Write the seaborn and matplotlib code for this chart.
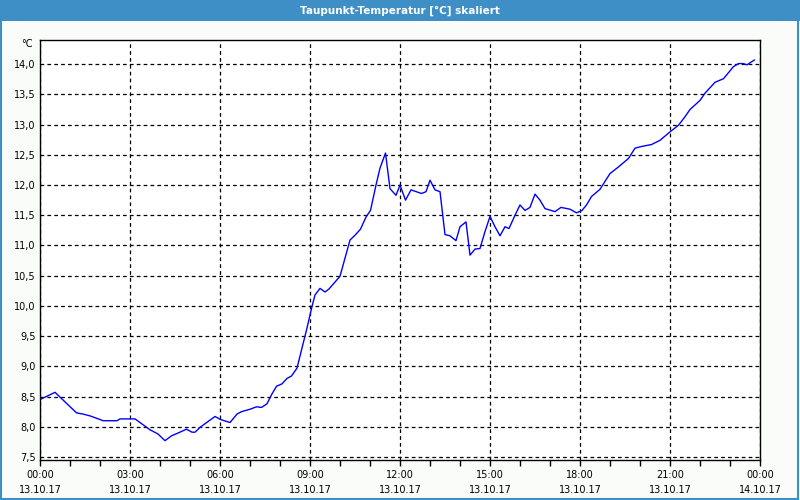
import pandas as pd
import numpy as np
import matplotlib
matplotlib.use("Agg")
import matplotlib.pyplot as plt
import matplotlib.dates as mdates
from matplotlib.ticker import FuncFormatter, MultipleLocator
from matplotlib.patches import Rectangle
import seaborn as sns

# readings of 13.10.17 (time of day, dew point in °C)
times = ["00:00", "00:30", "01:13", "01:26", "01:40", "02:00", "02:06", "02:34", "02:40", "03:10",
         "03:20", "03:40", "03:56", "04:10", "04:23", "04:37", "04:53", "05:04", "05:10", "05:20",
         "05:50", "06:01", "06:20", "06:34", "06:43", "07:00", "07:13", "07:23", "07:34", "07:43",
         "07:53", "08:04", "08:14", "08:23", "08:34", "08:43", "08:53", "09:04", "09:10", "09:20",
         "09:30", "09:38", "10:00", "10:20", "10:30", "10:41", "10:52", "11:01", "11:12", "11:20",
         "11:31", "11:40", "11:52", "12:00", "12:11", "12:22", "12:43", "12:52", "13:00", "13:10",
         "13:20", "13:30", "13:40", "13:52", "14:00", "14:12", "14:20", "14:30", "14:40", "14:50",
         "15:00", "15:10", "15:20", "15:30", "15:38", "15:50", "16:00", "16:10", "16:20", "16:30",
         "16:40", "16:50", "17:10", "17:22", "17:40", "17:53", "18:04", "18:13", "18:23", "18:40",
         "19:00", "19:17", "19:37", "19:50", "20:04", "20:23", "20:40", "21:00", "21:17", "21:30",
         "21:40", "22:00", "22:10", "22:30", "22:47", "23:07", "23:17", "23:26", "23:34", "23:49"]
dewpoint = [8.45, 8.57, 8.23, 8.21, 8.18, 8.12, 8.10, 8.10, 8.13, 8.13,
            8.07, 7.95, 7.88, 7.77, 7.85, 7.90, 7.96, 7.91, 7.91, 7.99,
            8.17, 8.12, 8.07, 8.21, 8.25, 8.29, 8.33, 8.32, 8.38, 8.53,
            8.67, 8.71, 8.80, 8.84, 8.97, 9.27, 9.60, 9.99, 10.18, 10.29,
            10.23, 10.28, 10.49, 11.09, 11.17, 11.27, 11.47, 11.58, 12.00, 12.28,
            12.53, 11.94, 11.83, 12.00, 11.75, 11.92, 11.86, 11.89, 12.08, 11.92,
            11.89, 11.18, 11.16, 11.08, 11.31, 11.39, 10.84, 10.94, 10.95, 11.23,
            11.48, 11.31, 11.16, 11.31, 11.28, 11.50, 11.67, 11.58, 11.63, 11.85,
            11.75, 11.61, 11.56, 11.63, 11.60, 11.54, 11.58, 11.67, 11.81, 11.93,
            12.19, 12.30, 12.44, 12.61, 12.64, 12.67, 12.74, 12.88, 12.99, 13.13,
            13.25, 13.40, 13.52, 13.70, 13.76, 13.96, 14.01, 14.01, 13.99, 14.07]

title = "Taupunkt-Temperatur [°C] skaliert"
unit = "°C"

df = pd.DataFrame({"Zeit": pd.to_datetime(["2017-10-13 " + t for t in times]),
                   "Taupunkt": dewpoint})

sns.set_style("white")
plt.rcParams["font.family"] = ["DejaVu Sans"]
plt.rcParams["text.color"] = "black"
plt.rcParams["xtick.color"] = "black"
plt.rcParams["ytick.color"] = "black"

fig = plt.figure(figsize=(8, 5), dpi=100, facecolor="#fafcfa")
ax = fig.add_axes([0.05, 0.08, 0.9, 0.84])
ax.set_facecolor("white")

sns.lineplot(data=df, x="Zeit", y="Taupunkt", color="#0000ff", linewidth=1, ax=ax)

ax.set_xlim(pd.Timestamp("2017-10-13 00:00"), pd.Timestamp("2017-10-14 00:00"))
ax.set_ylim(7.45, 14.4)
ax.yaxis.set_major_locator(MultipleLocator(0.5))
ax.yaxis.set_major_formatter(FuncFormatter(lambda v, p: f"{v:.1f}".replace(".", ",")))
ax.xaxis.set_major_locator(mdates.HourLocator(byhour=range(0, 24, 3)))
ax.xaxis.set_minor_locator(mdates.HourLocator())
ax.xaxis.set_major_formatter(mdates.DateFormatter("%H:%M\n%d.%m.%y"))

ax.grid(True, which="major", color="black", linestyle=(0, (3, 2.5)), linewidth=0.9)
ax.tick_params(axis="x", which="both", direction="out", length=4, width=1, color="black",
               labelsize=7, pad=3, bottom=True)
ax.tick_params(axis="y", length=0, labelsize=7, pad=3, left=True)
for lbl in ax.get_xticklabels():
    lbl.set_linespacing(1.6)
for s in ax.spines.values():
    s.set_color("black")
    s.set_linewidth(1)
ax.set_xlabel("")
ax.set_ylabel("")

fig.text(0.041, 0.912, unit, fontsize=7, ha="right", va="center")

# title bar and frame
fig.patches.append(Rectangle((0, 0.958), 1, 0.042, transform=fig.transFigure,
                             facecolor="#3d8fc6", edgecolor="none", zorder=0))
fig.patches.append(Rectangle((0.001, 0.002), 0.997, 0.99, transform=fig.transFigure,
                             facecolor="none", edgecolor="#3d8fc6", linewidth=1.5, zorder=0))
fig.text(0.5, 0.979, title, color="white", fontsize=7.5, fontweight="bold",
         ha="center", va="center")

fig.savefig("out.png", dpi=100, facecolor=fig.get_facecolor())
